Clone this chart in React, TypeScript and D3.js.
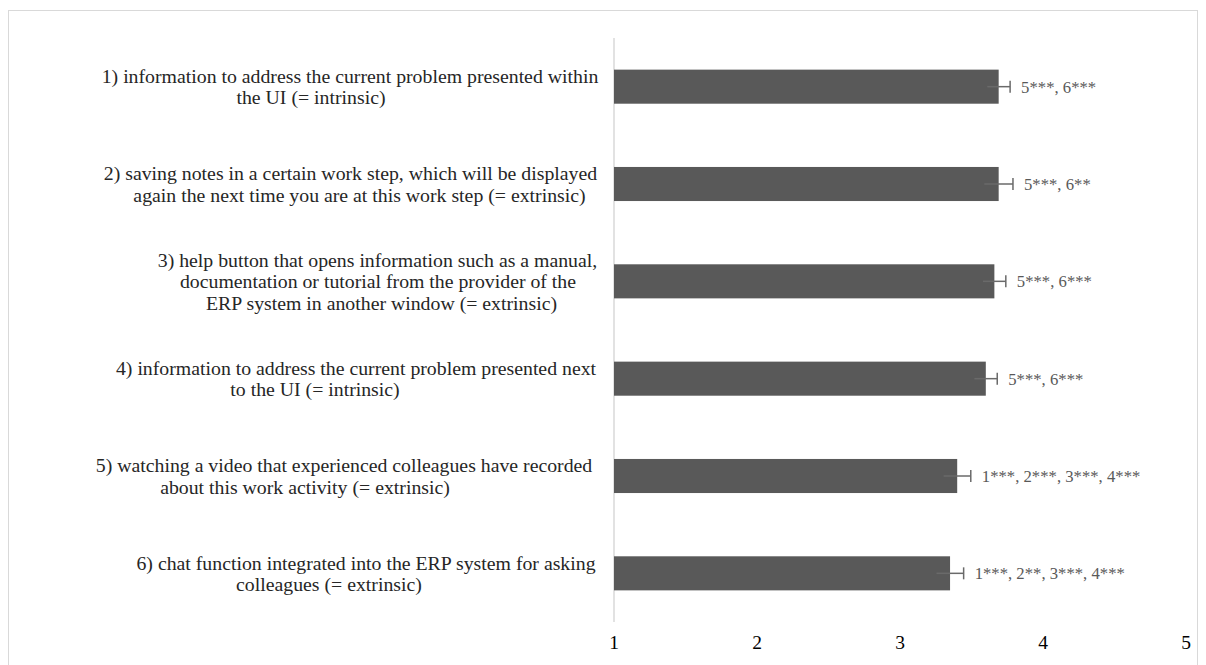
import React from "react";
import * as d3 from "d3";

const categoryLines: string[][] = [
  ["1) information to address the current problem presented within", "the UI (= intrinsic)"],
  ["2) saving notes in a certain work step, which will be displayed", "again the next time you are at this work step (= extrinsic)"],
  ["3) help button that opens information such as a manual,", "documentation or tutorial from the provider of the", "ERP system in another window (= extrinsic)"],
  ["4) information to address the current problem presented next", "to the UI (= intrinsic)"],
  ["5) watching a video that experienced colleagues have recorded", "about this work activity (= extrinsic)"],
  ["6) chat function integrated into the ERP system for asking", "colleagues (= extrinsic)"],
];
const categories = ["1", "2", "3", "4", "5", "6"];
const means = [3.69, 3.69, 3.66, 3.6, 3.4, 3.35];
const errors = [0.08, 0.1, 0.08, 0.08, 0.095, 0.095];
const significance = ["5***, 6***", "5***, 6**", "5***, 6***", "5***, 6***", "1***, 2***, 3***, 4***", "1***, 2**, 3***, 4***"];
const xTicks = [1, 2, 3, 4, 5];

// layout: horizontal centre of each wrapped label line
const lineCenters: number[][] = [
  [350, 311],
  [350.5, 359.5],
  [377.5, 378, 381.5],
  [356, 315],
  [344, 305],
  [366, 329],
];

export default function App() {
  const W = 1206;
  const H = 665;
  const x = d3.scaleLinear().domain([1, 5]).range([614, 1186]);
  const y = d3.scaleBand<string>().domain(categories).range([38, 622]).paddingInner(0.65).paddingOuter(0.325);
  const fontStyle = { fontFamily: '"Liberation Serif", "Times New Roman", Times, serif' };
  const lineH = 21.5;

  return (
    <svg width={W} height={H} style={{ position: "absolute", left: 0, top: 0, background: "#fff" }}>
      <rect x={8.5} y={10.5} width={1189} height={700} fill="#fff" stroke="#d9d9d9" strokeWidth={1} />
      <line x1={x(1)} x2={x(1)} y1={38} y2={622} stroke="#d9d9d9" strokeWidth={1.5} />
      {categories.map((c, i) => {
        const y0 = y(c)!;
        const bh = y.bandwidth();
        const cy = y0 + bh / 2;
        const hi = x(means[i] + errors[i]);
        const lo = x(means[i] - errors[i]);
        const lines = categoryLines[i];
        const n = lines.length;
        return (
          <g key={c}>
            <rect x={x(1)} y={y0} width={x(means[i]) - x(1)} height={bh} fill="#595959" />
            <line x1={lo} x2={hi} y1={cy} y2={cy} stroke="#6a6a6a" strokeWidth={1.5} />
            <line x1={hi} x2={hi} y1={cy - 6} y2={cy + 6} stroke="#6a6a6a" strokeWidth={1.5} />
            <text x={hi + 11} y={cy} dy="0.35em" fontSize={16.7} fill="#595959" style={fontStyle}>
              {significance[i]}
            </text>
            {lines.map((ln, j) => (
              <text
                key={j}
                x={lineCenters[i][j]}
                y={cy + (j - (n - 1) / 2) * lineH}
                dy="0.35em"
                textAnchor="middle"
                fontSize={19.8}
                fill="#262626"
                style={fontStyle}
              >
                {ln}
              </text>
            ))}
          </g>
        );
      })}
      {xTicks.map((t) => (
        <text key={t} x={x(t)} y={642} dy="0.35em" textAnchor="middle" fontSize={19.5} fill="#000" style={fontStyle}>
          {t}
        </text>
      ))}
    </svg>
  );
}
